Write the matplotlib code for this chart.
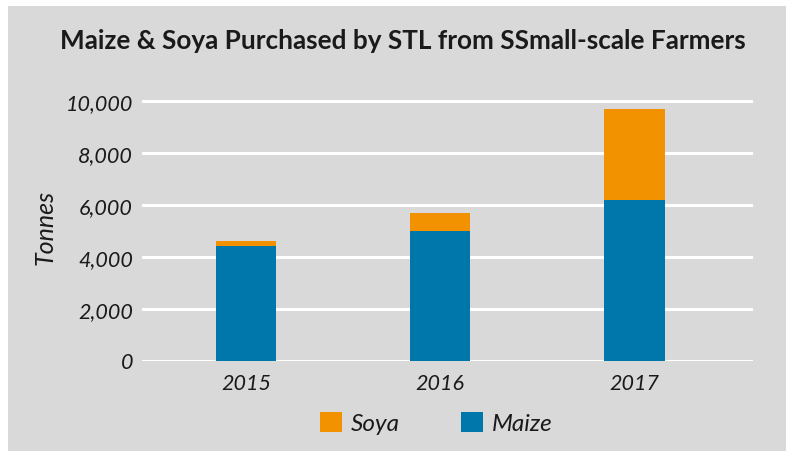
import matplotlib
matplotlib.use("Agg")
import matplotlib.pyplot as plt
from matplotlib.patches import Rectangle, Patch

years = ["2015", "2016", "2017"]
maize = [4410, 4990, 6180]
soya = [190, 690, 3510]
yticks = [0, 2000, 4000, 6000, 8000, 10000]
ytick_labels = ["0", "2,000", "4,000", "6,000", "8,000", "10,000"]

ORANGE = "#F39200"
BLUE = "#0077AA"
BG = "#D9D9D9"
TXT = "#1a1a1a"

plt.rcParams['font.family'] = ['Lato', 'DejaVu Sans']

W, H = 786, 452
fig = plt.figure(figsize=(W/100, H/100), dpi=100)
fig.patch.set_facecolor("white")
fig.add_artist(Rectangle((8/W, 0), 1 - 8/W, 1 - 7/H, transform=fig.transFigure,
                         facecolor=BG, edgecolor="none", zorder=0))

ax = fig.add_axes([142/W, 1 - 361.5/H, (753-142)/W, 272.5/H])
ax.set_facecolor("none")
x = list(range(len(years)))
ax.bar(x, maize, width=0.314, color=BLUE, zorder=3, label="Maize")
ax.bar(x, soya, width=0.314, bottom=maize, color=ORANGE, zorder=3, label="Soya")
ax.set_xlim(-0.536, 2.613)
ax.set_ylim(0, 10500)
ax.set_yticks(yticks)
ax.set_yticklabels(ytick_labels, fontstyle="italic", fontsize=15.5, color=TXT)
ax.set_xticks(x)
ax.set_xticklabels(years, fontstyle="italic", fontsize=15.5, color=TXT)
ax.tick_params(axis="both", length=0)
ax.tick_params(axis="y", pad=6.5)
ax.tick_params(axis="x", pad=9)
for s in ax.spines.values():
    s.set_visible(False)
ax.yaxis.grid(True, color="white", linewidth=2.2, zorder=1)
ax.set_axisbelow(True)

fig.text(45/W, 1 - 227/H, "Tonnes", rotation=90, fontstyle="italic", fontsize=18,
         color=TXT, ha="center", va="center")
fig.text(403/W, 1 - 41/H, "Maize & Soya Purchased by STL from SSmall-scale Farmers",
         fontweight="bold", fontsize=18.8, color=TXT, ha="center", va="center")

handles = [Patch(facecolor=ORANGE, label="Soya"), Patch(facecolor=BLUE, label="Maize")]
leg = fig.legend(handles=handles, loc="center", bbox_to_anchor=(436.5/W, 1 - 424/H), ncol=2,
                 frameon=False, prop={"style": "italic", "size": 17.5},
                 handlelength=0.9, handleheight=0.9, handletextpad=0.37, columnspacing=2.5,
                 labelcolor=TXT)

fig.savefig("out.png", dpi=100)
